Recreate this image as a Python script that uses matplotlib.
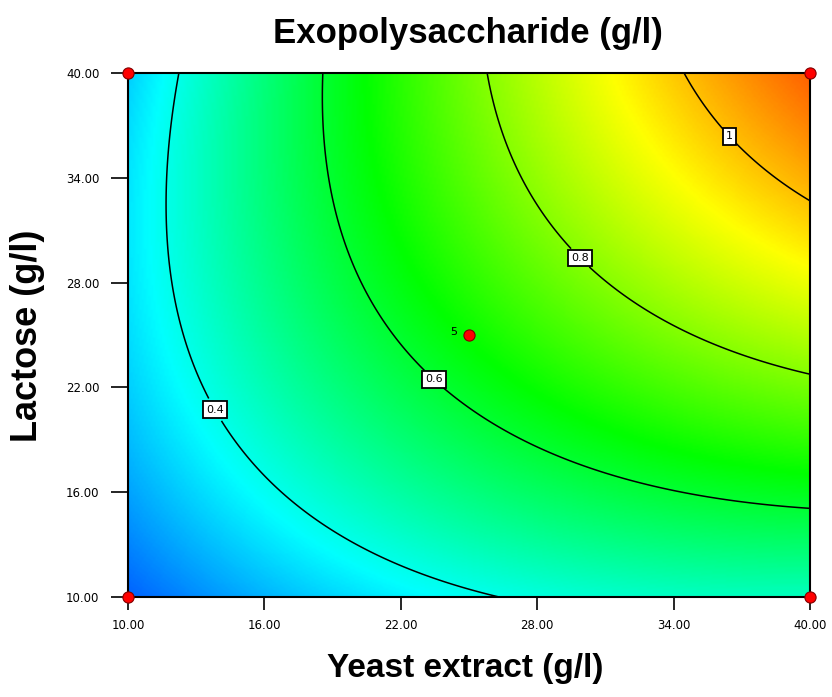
import numpy as np
import matplotlib
matplotlib.use("Agg")
import matplotlib.pyplot as plt
from matplotlib.colors import LinearSegmentedColormap

# quadratic response model in coded units (a = yeast extract, b = lactose)
# terms: intercept, a, b, ab, a^2, b^2 -- fitted to the contours in the reference
coef = [0.6599, 0.2560, 0.1948, 0.1347, -0.0649, -0.0753]
x_range = [10, 40]
y_range = [10, 40]
levels = [0.4, 0.6, 0.8, 1.0]
level_text = ["0.4", "0.6", "0.8", "1"]
label_x = [13.96, 23.5, 29.88, 36.6]
label_y = [20.82, 22.54, 29.41, 36.56]
pts_x = [10, 10, 40, 40, 25]
pts_y = [10, 40, 10, 40, 25]
ticks = [10, 16, 22, 28, 34, 40]


def model(x, y):
    a, b = (x - 25) / 15, (y - 25) / 15
    return (coef[0] + coef[1] * a + coef[2] * b + coef[3] * a * b
            + coef[4] * a * a + coef[5] * b * b)


xg = np.linspace(x_range[0], x_range[1], 301)
yg = np.linspace(y_range[0], y_range[1], 301)
X, Y = np.meshgrid(xg, yg)
Z = model(X, Y)

cmap = LinearSegmentedColormap.from_list(
    "de", ["#0000ff", "#00ffff", "#00ff00", "#ffff00", "#ff0000"])

fig = plt.figure(figsize=(8.32, 6.97), dpi=100)
ax = fig.add_axes([128 / 832, 1 - 597 / 697, 682 / 832, 524 / 697])
zmin, zmax = Z.min(), Z.max()
span = zmax - zmin
ax.imshow(Z, origin="lower", extent=x_range + y_range, cmap=cmap,
          vmin=zmin - 0.12 * span, vmax=zmax + 0.12 * span,
          aspect="auto", interpolation="bilinear")
cs = ax.contour(X, Y, Z, levels=levels, colors="black", linewidths=1.1)
labels = ax.clabel(cs, fmt=dict(zip(levels, level_text)),
                   fontsize=8, inline=True, inline_spacing=4,
                   manual=list(zip(label_x, label_y)))
for t in labels:
    t.set_rotation(0)
    t.set_bbox(dict(boxstyle="square,pad=0.3", fc="white", ec="black", lw=1.3))

ax.scatter(pts_x, pts_y, s=65, c="red", edgecolors="#800000", linewidths=0.8,
           zorder=5, clip_on=False)
ax.text(24.5, 25.15, "5", fontsize=8, ha="right", va="center")

ax.set_xlim(x_range)
ax.set_ylim(y_range)
ax.set_xticks(ticks)
ax.set_yticks(ticks)
ax.set_xticklabels([f"{t:.2f}" for t in ticks], fontsize=8.5)
ax.set_yticklabels([f"{t:.2f}" for t in ticks], fontsize=8.5)
ax.tick_params(axis="x", direction="out", length=9.5, width=1.2, pad=6)
ax.tick_params(axis="y", direction="out", length=12.5, width=1.2, pad=8)
for s in ax.spines.values():
    s.set_linewidth(1.5)

font = ["Liberation Sans", "DejaVu Sans"]
fig.text(468 / 832, 1 - 33 / 697, "Exopolysaccharide (g/l)", fontsize=25,
         fontweight="bold", family=font, ha="center", va="center")
fig.text(465 / 832, 1 - 668 / 697, "Yeast extract (g/l)", fontsize=24,
         fontweight="bold", family=font, ha="center", va="center")
fig.text(28 / 832, 1 - 336 / 697, "Lactose (g/l)", fontsize=26,
         fontweight="bold", family=font, ha="center", va="center", rotation=90)

fig.savefig("out.png", dpi=100)
